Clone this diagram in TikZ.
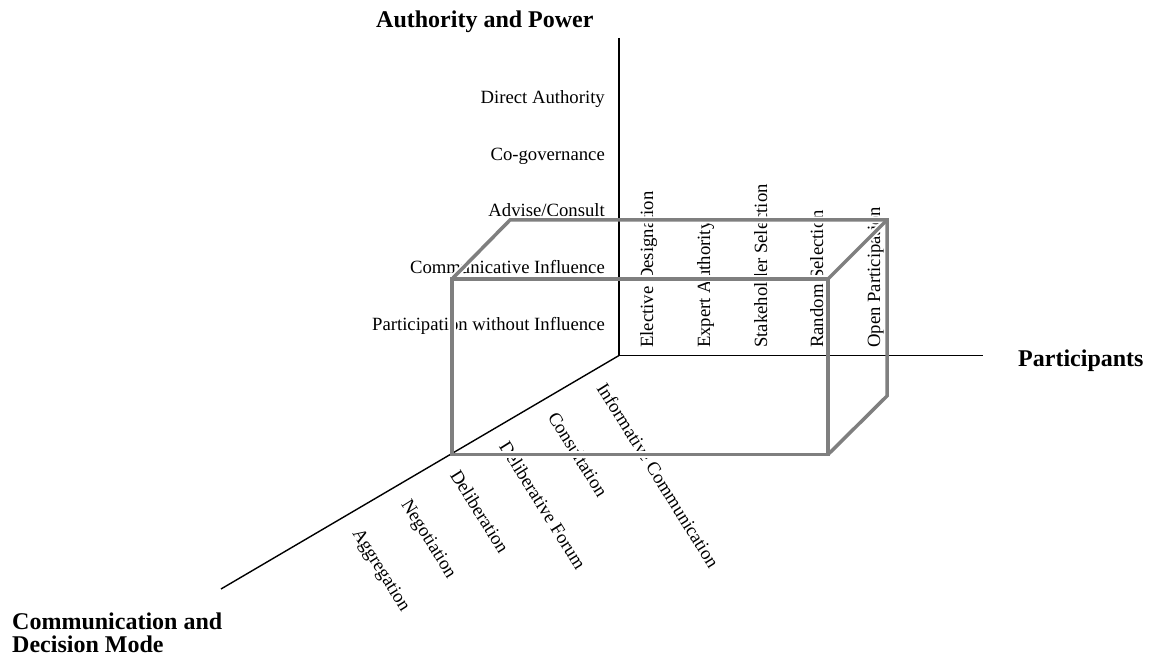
\documentclass[tikz,border=0pt]{standalone}
\usepackage{fontspec}
\setmainfont{Liberation Serif}
\definecolor{boxgray}{HTML}{7F7F7F}
\begin{document}
\begin{tikzpicture}[x=1pt,y=1pt,
  axisline/.style={line width=1.4pt,black},
  boxedge/.style={line width=3.5pt,draw=boxgray,line join=miter},
  halo/.style={line width=7pt,draw=white,line join=miter},
  lab/.style={font=\fontsize{18.7}{22}\selectfont,inner sep=0pt},
  ttl/.style={font=\fontsize{24}{23}\selectfont\bfseries,inner sep=0pt},
  plab/.style={lab,rotate=90,anchor=base west},
  dlab/.style={lab,rotate=-58,anchor=base west}]
\useasboundingbox (0,0) rectangle (1152,664);
% axis coordinates
\coordinate (Otop) at (619,626);
\coordinate (O) at (619,308.5);
\coordinate (Oright) at (983,308.5);
\coordinate (Odiag) at (221,75);
% box coordinates
\coordinate (FTL) at (452,385);
\coordinate (FTR) at (828,385);
\coordinate (FBR) at (828,209.5);
\coordinate (FBL) at (452,209.5);
\coordinate (BTL) at (510,444);
\coordinate (BTR) at (887,444);
\coordinate (BBR) at (887,268);
% titles
\node[ttl,anchor=base west] (tAP) at (376,636) {Authority and Power};
\node[ttl,anchor=base west] (tP) at (1018,297) {Participants};
\node[ttl,anchor=base west,align=left] (tCD) at (12,11) {Communication and\\[0pt]Decision Mode};
% authority labels
\node[lab,anchor=base east] (a1) at (605,560) {Direct Authority};
\node[lab,anchor=base east] (a2) at (605,503.5) {Co-governance};
\node[lab,anchor=base east] (a3) at (605,447) {Advise/Consult};
\node[lab,anchor=base east] (a4) at (605,390) {Communicative Influence};
\node[lab,anchor=base east] (a5) at (605,333.5) {Participation without Influence};
% participant labels
\node[plab] (p1) at (653,316) {Elective Designation};
\node[plab] (p2) at (710,316) {Expert Authority};
\node[plab] (p3) at (767,316) {Stakeholder Selection};
\node[plab] (p4) at (823,316) {Random Selection};
\node[plab] (p5) at (880,316) {Open Participation};
% communication labels
\node[dlab] (c1) at (352,131) {Aggregation};
\node[dlab] (c2) at (400.8,160) {Negotiation};
\node[dlab] (c3) at (449.6,189) {Deliberation};
\node[dlab] (c4) at (498.4,218) {Deliberative Forum};
\node[dlab] (c5) at (547.2,247) {Consultation};
\node[dlab] (c6) at (596,276) {Informative Communication};
% white halo under box edges
\draw[halo] (FTL) -- (FTR) -- (FBR) -- (FBL) -- cycle;
\draw[halo] (FTL) -- (BTL) -- (BTR) -- (BBR) -- (FBR);
\draw[halo] (FTR) -- (BTR);
% axes
\draw[axisline] (Otop) -- (O) -- (Oright);
\draw[axisline] (O) -- (Odiag);
% box
\draw[boxedge] (FTL) -- (FTR) -- (FBR) -- (FBL) -- cycle;
\draw[boxedge] (FTL) -- (BTL) -- (BTR) -- (BBR) -- (FBR);
\draw[boxedge] (FTR) -- (BTR);
\end{tikzpicture}
\end{document}
